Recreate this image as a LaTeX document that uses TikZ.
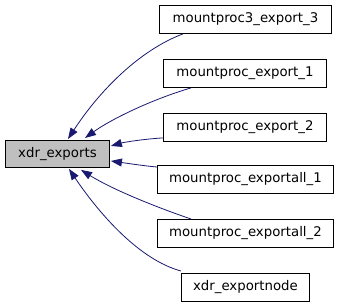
\documentclass[tikz,border=0pt]{standalone}
\usepackage{fontspec}
\setmainfont{DejaVu Sans}
\usetikzlibrary{arrows.meta,calc}
\definecolor{edgeblue}{HTML}{191970}
\definecolor{focusgray}{HTML}{BFBFBF}
\begin{document}
\begin{tikzpicture}[x=1pt,y=-1pt,
  fn/.style={draw=black,fill=white,line width=0.9pt,inner sep=0pt,
    font=\fontsize{13.3}{15}\selectfont,anchor=north west},
  focus/.style={fn,fill=focusgray},
  call/.style={draw=edgeblue,line width=0.8pt,
    -{Triangle[length=11pt,width=8pt,fill=edgeblue]}}]
\useasboundingbox (0,0) rectangle (339,307);
% nodes: minimum size set from box extents
\node[focus,minimum width=104pt,minimum height=27pt] (xe) at (5,140) {xdr\_exports};
\node[fn,minimum width=172pt,minimum height=28pt] (m3) at (159,5) {mountproc3\_export\_3};
\node[fn,minimum width=163pt,minimum height=28pt] (e1) at (163,59) {mountproc\_export\_1};
\node[fn,minimum width=163pt,minimum height=28pt] (e2) at (163,113) {mountproc\_export\_2};
\node[fn,minimum width=176pt,minimum height=28pt] (a1) at (157,165) {mountproc\_exportall\_1};
\node[fn,minimum width=176pt,minimum height=28pt] (a2) at (157,219) {mountproc\_exportall\_2};
\node[fn,minimum width=128pt,minimum height=28pt] (xn) at (181,273) {xdr\_exportnode};
% call edges
\draw[call] ($(m3.south west)+(24,0)$) .. controls (140,50) and (100,90) .. ($(xe.north west)+(63,-1)$);
\draw[call] ($(e1.south west)+(28,0)$) .. controls (150,100) and (110,120) .. ($(xe.north west)+(80,-2)$);
\draw[call] ($(e2.south west)+(0,-4)$) .. controls (145,139) and (125,142) .. ($(xe.east)+(1,-8)$);
\draw[call] ($(a1.north west)+(0,2)$) .. controls (145,166) and (125,163) .. ($(xe.east)+(1,7)$);
\draw[call] ($(a2.north west)+(34,0)$) .. controls (150,205) and (110,188) .. ($(xe.south west)+(76,2)$);
\draw[call] ($(xn.north west)+(0,-2)$) .. controls (140,260) and (100,215) .. ($(xe.south west)+(64,1)$);
\end{tikzpicture}
\end{document}
